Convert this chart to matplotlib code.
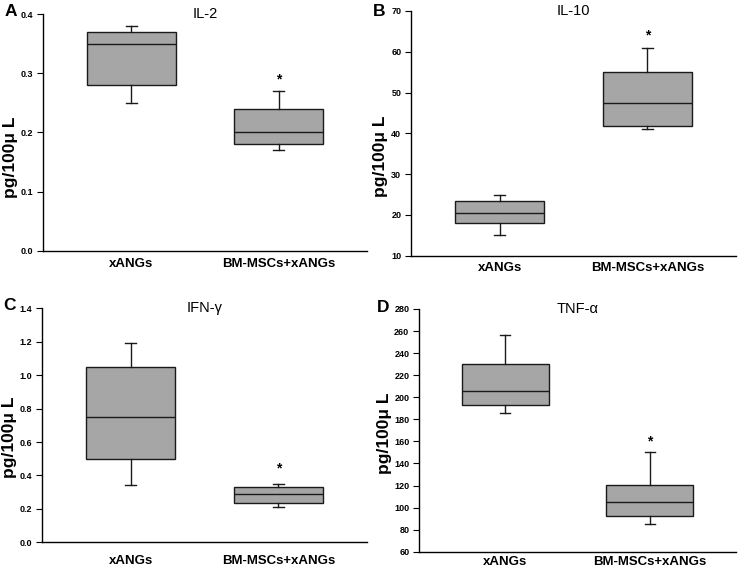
import matplotlib
matplotlib.use("Agg")
import matplotlib.pyplot as plt

plt.rcParams['font.family'] = ['Liberation Sans', 'DejaVu Sans']

groups = ["xANGs", "BM-MSCs+xANGs"]
panel_letters = ["A", "B", "C", "D"]
titles = ["IL-2", "IL-10", "IFN-γ", "TNF-α"]

# (whislo, q1, median, q3, whishi) for xANGs and BM-MSCs+xANGs
il2_stats = [[0.25, 0.28, 0.35, 0.37, 0.38], [0.17, 0.18, 0.20, 0.24, 0.27]]
il10_stats = [[15.0, 18.0, 20.5, 23.5, 25.0], [41.0, 41.7, 47.4, 55.0, 61.0]]
ifn_stats = [[0.34, 0.497, 0.752, 1.047, 1.19], [0.21, 0.233, 0.29, 0.33, 0.35]]
tnf_stats = [[186, 193, 206, 230.5, 256.5], [85, 92.5, 105, 120.5, 150]]
all_stats = [il2_stats, il10_stats, ifn_stats, tnf_stats]

star_values = [0.29, 64, 0.44, 160]

y_limits = [(0.0, 0.4), (10, 70), (0.0, 1.4), (60, 280)]
y_ticks = [[0.0, 0.1, 0.2, 0.3, 0.4],
           [10, 20, 30, 40, 50, 60, 70],
           [0.0, 0.2, 0.4, 0.6, 0.8, 1.0, 1.2, 1.4],
           [60, 80, 100, 120, 140, 160, 180, 200, 220, 240, 260, 280]]
y_fmt = ["{:.1f}", "{:.0f}", "{:.1f}", "{:.0f}"]

W, H = 738, 570
# axes rectangles in pixels: left, top, right, bottom
rects_px = [(43, 14, 367, 250.7), (411, 11, 736, 255.7),
            (42, 308.3, 367, 542.3), (419, 309, 736, 551.7)]
letter_px = [(5, 12), (373, 12), (3, 305), (377, 308)]
ylabel_px = [(11, 157), (381, 156), (10, 437), (384, 433)]
xlabel_pad = [5.5, 4.5, 9.0, 3.0]

fig = plt.figure(figsize=(W / 100, H / 100), dpi=100)
fig.patch.set_facecolor("white")

for i in range(4):
    l, t, r, b = rects_px[i]
    ax = fig.add_axes([l / W, 1 - b / H, (r - l) / W, (b - t) / H])
    stats = []
    for g, s in zip(groups, all_stats[i]):
        stats.append(dict(label=g, whislo=s[0], q1=s[1], med=s[2], q3=s[3], whishi=s[4], fliers=[]))
    ax.bxp(stats, positions=[1, 2], widths=0.6, patch_artist=True, showfliers=False,
           boxprops=dict(facecolor="#a6a6a6", edgecolor="#1a1a1a", linewidth=1.0),
           medianprops=dict(color="#1a1a1a", linewidth=1.0),
           whiskerprops=dict(color="#1a1a1a", linewidth=1.0),
           capprops=dict(color="#1a1a1a", linewidth=1.0),
           capwidths=0.07)
    ax.set_xlim(0.4, 2.6)
    ax.set_ylim(*y_limits[i])
    ax.set_yticks(y_ticks[i])
    ax.set_yticklabels([y_fmt[i].format(v) for v in y_ticks[i]], fontsize=6.5, fontweight="bold")
    ax.set_xticks([1, 2])
    ax.set_xticklabels(groups, fontsize=9.5, fontweight="bold")
    ax.tick_params(axis="x", length=0, pad=xlabel_pad[i])
    ax.tick_params(axis="y", length=4, width=0.8, pad=3, direction="out")
    for sp in ["top", "right"]:
        ax.spines[sp].set_visible(False)
    for sp in ["left", "bottom"]:
        ax.spines[sp].set_linewidth(1.0)
    ax.text(0.5, 1.0, titles[i], transform=ax.transAxes, ha="center", va="center", fontsize=10.5)
    ax.text(2, star_values[i], "*", ha="center", va="center", fontsize=10, fontweight="bold")
    lx, ly = letter_px[i]
    fig.text(lx / W, 1 - ly / H, panel_letters[i], fontsize=12.5, fontweight="bold", ha="left", va="center")
    yx, yy = ylabel_px[i]
    fig.text(yx / W, 1 - yy / H, "pg/100μ L", rotation=90, fontsize=12.5, fontweight="bold",
             ha="center", va="center")

fig.savefig("out.png", dpi=100)
